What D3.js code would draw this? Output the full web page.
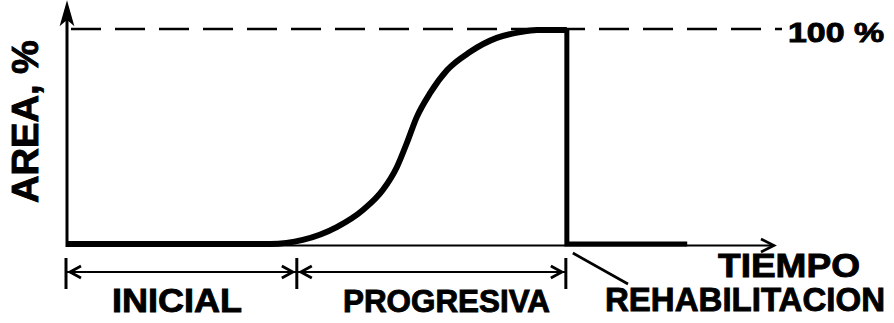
<!DOCTYPE html>
<html>
<head>
<meta charset="utf-8">
<script src="https://cdn.jsdelivr.net/npm/d3@7"></script>
<style>
  html, body { margin: 0; padding: 0; background: #fff; }
  svg { display: block; }
  text { font-family: "Liberation Sans", Arial, sans-serif; font-weight: bold; fill: #000; stroke: #000; stroke-width: 0.9; }
</style>
</head>
<body>
<svg id="chart" width="894" height="323"></svg>
<script>
// ---- data ----
const phaseNames = ["INICIAL", "PROGRESIVA", "REHABILITACION"];
const phaseBounds = [0, 32.6, 70.6];
const curveTime = [0, 28.7, 33.3, 38.1, 41.8, 44.6, 46.6, 48.0, 49.4, 51.3, 53.7, 56.9, 60.7, 64.0, 66.4, 70.6];
const curveArea = [0, 0, 1.9, 7.9, 15.9, 25.2, 36.0, 47.2, 59.3, 70.6, 81.3, 89.7, 96.3, 99.0, 100, 100];
const tailTime = [70.6, 70.6, 87.6];
const tailArea = [100, 0, 0];
const refValues = [100];
const refLabels = ["100 %"];
const yLabel = "AREA, %";
const xLabel = "TIEMPO";

// ---- layout ----
const svg = d3.select("#chart");
const x = d3.scaleLinear().domain([0, 100]).range([67, 775]);
const y = d3.scaleLinear().domain([0, 100]).range([244, 30]);

const line = d3.line().x(d => x(d[0])).y(d => y(d[1]));

// dashed 100% reference line
svg.selectAll(".ref").data(refValues).enter().append("line")
  .attr("x1", x(0) + 4).attr("x2", 782)
  .attr("y1", d => y(d) - 1).attr("y2", d => y(d) - 1)
  .attr("stroke", "#000").attr("stroke-width", 2.6)
  .attr("stroke-dasharray", "30,14");
svg.selectAll(".refLabel").data(refValues).enter().append("text")
  .attr("x", 788).attr("y", d => y(d) + 12)
  .attr("font-size", 27).attr("textLength", 96).attr("lengthAdjust", "spacingAndGlyphs")
  .text((d, i) => refLabels[i]);

// x axis (thin) with arrow
svg.append("line")
  .attr("x1", x(0)).attr("x2", x(100) - 2)
  .attr("y1", y(0) + 1.5).attr("y2", y(0) + 1.5)
  .attr("stroke", "#000").attr("stroke-width", 2.2);
svg.append("path")
  .attr("d", `M${x(100) - 14},${y(0) - 5} L${x(100) - 1},${y(0) + 1.5} L${x(100) - 14},${y(0) + 8}`)
  .attr("fill", "none").attr("stroke", "#000").attr("stroke-width", 2.6);

// y axis with arrow
svg.append("line")
  .attr("x1", x(0)).attr("x2", x(0))
  .attr("y1", y(0) + 3).attr("y2", 12)
  .attr("stroke", "#000").attr("stroke-width", 3);
svg.append("path")
  .attr("d", `M${x(0)},3 L${x(0) + 6},24 L${x(0)},19 L${x(0) - 6},24 Z`)
  .attr("fill", "#000").attr("stroke", "#000").attr("stroke-width", 1.5);

// S-curve
svg.append("path")
  .datum(curveTime.map((t, i) => [t, curveArea[i]]))
  .attr("d", line.curve(d3.curveMonotoneX))
  .attr("fill", "none").attr("stroke", "#000").attr("stroke-width", 6)
  .attr("stroke-linejoin", "round");

// drop + tail
svg.append("path")
  .attr("d", d3.line().x(d => x(d[0])).y(d => y(d[1]))(tailTime.map((t, i) => [t, tailArea[i]])))
  .attr("fill", "none").attr("stroke", "#000").attr("stroke-width", 5);

// dimension line for phases
const dimY = 272;
svg.append("line")
  .attr("x1", x(phaseBounds[0])).attr("x2", x(phaseBounds[2]))
  .attr("y1", dimY).attr("y2", dimY)
  .attr("stroke", "#000").attr("stroke-width", 2);
svg.selectAll(".tick").data(phaseBounds).enter().append("line")
  .attr("x1", d => x(d) - 1).attr("x2", d => x(d) - 1)
  .attr("y1", 258).attr("y2", 289)
  .attr("stroke", "#000").attr("stroke-width", 3);
// chevrons pointing at the ticks
const chev = [];
phaseBounds.forEach((b, i) => {
  if (i < phaseBounds.length - 1) chev.push({ px: x(b) - 1, dir: 1 });
  if (i > 0) chev.push({ px: x(b) - 1, dir: -1 });
});
svg.selectAll(".chev").data(chev).enter().append("path")
  .attr("d", d => {
    const tip = d.px + d.dir * 4;
    const back = tip + d.dir * 11;
    return `M${back},${dimY - 6} L${tip},${dimY} L${back},${dimY + 6}`;
  })
  .attr("fill", "none").attr("stroke", "#000").attr("stroke-width", 2.8)
  .attr("stroke-linejoin", "miter");

// phase labels
svg.append("text").attr("x", 112).attr("y", 312)
  .attr("font-size", 33).attr("textLength", 130).attr("lengthAdjust", "spacingAndGlyphs")
  .text(phaseNames[0]);
svg.append("text").attr("x", 343).attr("y", 312)
  .attr("font-size", 31).attr("textLength", 207).attr("lengthAdjust", "spacingAndGlyphs")
  .text(phaseNames[1]);
svg.append("text").attr("x", 605).attr("y", 311)
  .attr("font-size", 34).attr("textLength", 280).attr("lengthAdjust", "spacingAndGlyphs")
  .text(phaseNames[2]);
// leader line for rehabilitación
svg.append("line")
  .attr("x1", x(phaseBounds[2]) + 6).attr("y1", 253)
  .attr("x2", 628).attr("y2", 284)
  .attr("stroke", "#000").attr("stroke-width", 2.6);

// axis titles
svg.append("text").attr("x", 718).attr("y", 277)
  .attr("font-size", 34).attr("textLength", 142).attr("lengthAdjust", "spacingAndGlyphs")
  .text(xLabel);
svg.append("text")
  .attr("transform", "translate(38,203) rotate(-90)")
  .attr("font-size", 36).attr("textLength", 163).attr("lengthAdjust", "spacingAndGlyphs")
  .text(yLabel);
</script>
</body>
</html>
